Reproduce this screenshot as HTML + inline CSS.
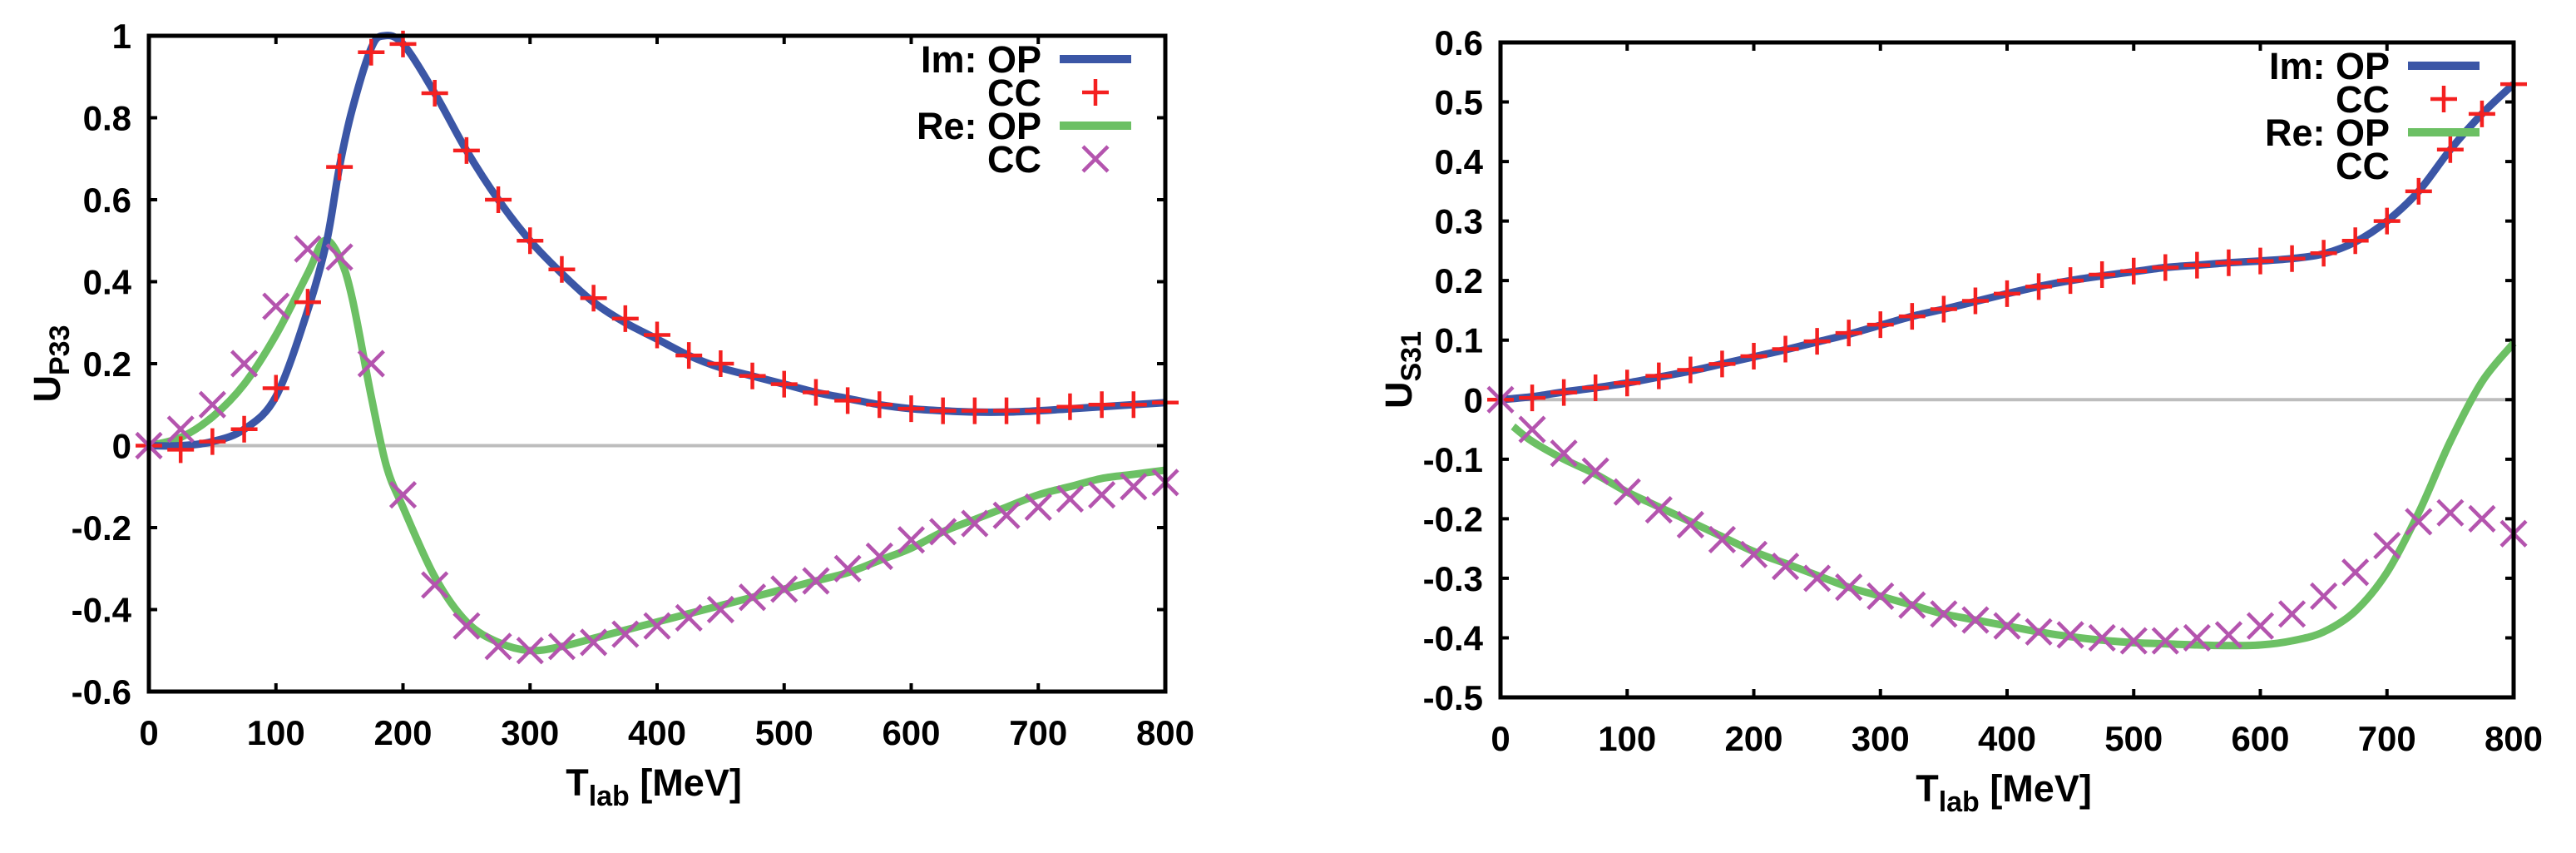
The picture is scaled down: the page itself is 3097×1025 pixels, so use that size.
<!DOCTYPE html>
<html><head><meta charset="utf-8"><style>
html,body{margin:0;padding:0;background:#fff;}
svg{display:block;}
text{font-family:"Liberation Sans",Arial,sans-serif;font-weight:bold;fill:#000;}
</style></head><body>
<svg id="fig" width="3097" height="1025" viewBox="0 0 3097 1025" xmlns="http://www.w3.org/2000/svg"></svg>
<script>
// ---------- Left panel data (U_P33) ----------
const xTicks = [0,100,200,300,400,500,600,700,800];
const p33YTicks = [-0.6,-0.4,-0.2,0,0.2,0.4,0.6,0.8,1];
const p33YLabels = ["-0.6","-0.4","-0.2","0","0.2","0.4","0.6","0.8","1"];
const p33ImOpX = [0,25,50,75,100,125,140,150,160,175,185,200,225,250,275,300,325,350,375,400,425,450,475,500,525,550,575,600,625,650,675,700,725,750,775,800];
const p33ImOpY = [0,0.0,0.01,0.04,0.12,0.33,0.5,0.68,0.82,0.97,1.0,0.98,0.86,0.72,0.6,0.5,0.42,0.35,0.3,0.26,0.22,0.19,0.17,0.15,0.13,0.115,0.1,0.09,0.085,0.082,0.082,0.085,0.09,0.095,0.1,0.105];
const p33CcX = [0,25,50,75,100,125,150,175,200,225,250,275,300,325,350,375,400,425,450,475,500,525,550,575,600,625,650,675,700,725,750,775,800];
const p33ImCcY = [0,-0.01,0.01,0.04,0.14,0.35,0.68,0.96,0.98,0.86,0.72,0.6,0.5,0.43,0.36,0.31,0.27,0.22,0.2,0.17,0.15,0.13,0.11,0.1,0.09,0.085,0.085,0.085,0.085,0.095,0.1,0.1,0.105];
const p33ReOpX = [0,25,50,75,100,125,138,150,160,175,187,200,225,250,275,300,325,350,375,400,425,450,475,500,525,550,575,600,625,650,675,700,725,750,775,800];
const p33ReOpY = [0,0.02,0.07,0.15,0.27,0.42,0.5,0.46,0.36,0.12,-0.05,-0.15,-0.32,-0.43,-0.48,-0.5,-0.49,-0.47,-0.45,-0.43,-0.41,-0.39,-0.37,-0.35,-0.33,-0.31,-0.28,-0.25,-0.21,-0.18,-0.15,-0.12,-0.1,-0.08,-0.07,-0.06];
const p33ReCcY = [0,0.04,0.1,0.2,0.34,0.48,0.46,0.2,-0.12,-0.34,-0.44,-0.49,-0.5,-0.49,-0.48,-0.46,-0.44,-0.42,-0.4,-0.37,-0.35,-0.33,-0.3,-0.27,-0.23,-0.21,-0.19,-0.17,-0.15,-0.13,-0.12,-0.1,-0.09];
// ---------- Right panel data (U_S31) ----------
const s31YTicks = [-0.5,-0.4,-0.3,-0.2,-0.1,0,0.1,0.2,0.3,0.4,0.5,0.6];
const s31YLabels = ["-0.5","-0.4","-0.3","-0.2","-0.1","0","0.1","0.2","0.3","0.4","0.5","0.6"];
const s31ImOpX = [0,25,50,75,100,125,150,175,200,225,250,275,300,325,350,375,400,425,450,475,500,525,550,575,600,625,650,675,700,725,750,775,800];
const s31ImOpY = [0,0.005,0.013,0.02,0.028,0.038,0.048,0.06,0.072,0.084,0.097,0.11,0.125,0.14,0.152,0.165,0.178,0.19,0.2,0.208,0.215,0.222,0.226,0.23,0.233,0.237,0.245,0.265,0.3,0.35,0.42,0.48,0.53];
const s31CcX = [0,25,50,75,100,125,150,175,200,225,250,275,300,325,350,375,400,425,450,475,500,525,550,575,600,625,650,675,700,725,750,775,800];
const s31ImCcY = [0,0.003,0.012,0.02,0.028,0.04,0.05,0.06,0.073,0.085,0.098,0.112,0.126,0.14,0.152,0.166,0.178,0.19,0.2,0.21,0.216,0.222,0.226,0.23,0.233,0.237,0.246,0.267,0.3,0.35,0.42,0.48,0.53];
const s31ReOpX = [10,25,50,75,100,125,150,175,200,225,250,275,300,325,350,375,400,425,450,475,500,525,550,575,600,625,650,675,700,725,750,775,800];
const s31ReOpY = [-0.045,-0.07,-0.1,-0.125,-0.155,-0.18,-0.205,-0.23,-0.255,-0.275,-0.295,-0.315,-0.33,-0.345,-0.36,-0.37,-0.38,-0.39,-0.398,-0.404,-0.408,-0.41,-0.412,-0.413,-0.412,-0.405,-0.39,-0.355,-0.29,-0.19,-0.07,0.03,0.095];
const s31ReCcY = [0,-0.05,-0.09,-0.12,-0.155,-0.185,-0.21,-0.235,-0.26,-0.28,-0.3,-0.315,-0.33,-0.345,-0.36,-0.37,-0.38,-0.39,-0.395,-0.4,-0.405,-0.405,-0.4,-0.395,-0.38,-0.36,-0.33,-0.29,-0.245,-0.205,-0.19,-0.2,-0.225];

const NS = "http://www.w3.org/2000/svg";
const svg = document.getElementById('fig');
const BLUE="#3b56a6", RED="#f42020", GREEN="#6cc064", MAG="#b454ae";
function mk(tag, attrs, parent){
  const e=document.createElementNS(NS,tag);
  for(const k in attrs) e.setAttribute(k,attrs[k]);
  (parent||svg).appendChild(e); return e;
}
function plusMark(g,x,y,c){
  const p=mk('path',{d:`M${x-16},${y}H${x+16}M${x},${y-16}V${y+16}`,stroke:c,'stroke-width':4.5,fill:'none'},g);
  
  
}
function xMark(g,x,y,c){
  const p=mk('path',{d:`M${x-15},${y-15}L${x+15},${y+15}M${x-15},${y+15}L${x+15},${y-15}`,stroke:c,'stroke-width':4.5,fill:'none'},g);
  
  
}
function smoothPath(pts){
  let d='M'+pts[0][0].toFixed(1)+','+pts[0][1].toFixed(1);
  for(let i=0;i<pts.length-1;i++){
    const p0=pts[Math.max(0,i-1)],p1=pts[i],p2=pts[i+1],p3=pts[Math.min(pts.length-1,i+2)];
    const c1x=p1[0]+(p2[0]-p0[0])/6,c1y=p1[1]+(p2[1]-p0[1])/6;
    const c2x=p2[0]-(p3[0]-p1[0])/6,c2y=p2[1]-(p3[1]-p1[1])/6;
    d+=`C${c1x.toFixed(1)},${c1y.toFixed(1)} ${c2x.toFixed(1)},${c2y.toFixed(1)} ${p2[0].toFixed(1)},${p2[1].toFixed(1)}`;
  }
  return d;
}
function panel(o){
  const g=mk('g',{});
  
  
  const sx=v=>o.L+(v-0)/800*(o.R-o.L);
  const sy=v=>o.B-(v-o.ymin)/(o.ymax-o.ymin)*(o.B-o.T);
  const z=mk('line',{x1:o.L,x2:o.R,y1:sy(0),y2:sy(0),stroke:'#bdbdbd','stroke-width':4},g);
  
  
  xTicks.forEach(t=>{
    const x=sx(t);
    mk('path',{d:`M${x},${o.B}v-10M${x},${o.T}v10`,stroke:'#000','stroke-width':4},g);
    const tx=mk('text',{x:x,y:o.B+64,'font-size':42,'text-anchor':'middle'},g);
    tx.textContent=String(t);
    
    
  });
  o.yTicks.forEach((t,i)=>{
    const y=sy(t);
    mk('path',{d:`M${o.L},${y}h10M${o.R},${y}h-10`,stroke:'#000','stroke-width':4},g);
    const tx=mk('text',{x:o.L-21,y:y+15,'font-size':42,'text-anchor':'end'},g);
    tx.textContent=o.yLabels[i];
    
    
  });
  const line=(xs,ys,c,nm)=>{
    const pts=xs.map((v,i)=>[sx(v),sy(ys[i])]);
    const p=mk('path',{d:smoothPath(pts),stroke:c,'stroke-width':9,fill:'none','stroke-linejoin':'round','stroke-linecap':'butt'},g);
    
    
  };
  line(o.reOpX,o.reOpY,GREEN,'re-op-curve');
  line(o.imOpX,o.imOpY,BLUE,'im-op-curve');
  o.ccX.forEach((v,i)=>plusMark(g,sx(v),sy(o.imCcY[i]),RED));
  o.ccX.forEach((v,i)=>xMark(g,sx(v),sy(o.reCcY[i]),MAG));
  const f=mk('rect',{x:o.L,y:o.T,width:o.R-o.L,height:o.B-o.T,fill:'none',stroke:'#000','stroke-width':5},g);
  
  
  const lg=mk('g',{},g);
  
  
  const tr=o.R-149, lx1=o.R-127, lx2=o.R-41, lc=o.R-84;
  const rows=[["Im: OP",'line',BLUE],["CC",'plus',RED],["Re: OP",'line',GREEN],["CC",'x',MAG]];
  rows.forEach((r,i)=>{
    const cy=o.T+28+i*40;
    const t=mk('text',{x:tr,y:cy+16,'font-size':45,'text-anchor':'end'},lg);
    t.textContent=r[0];
    
    
    if(r[1]==='line') mk('line',{x1:lx1,x2:lx2,y1:cy,y2:cy,stroke:r[2],'stroke-width':10},lg);
    else if(r[1]==='plus') plusMark(lg,lc,cy,r[2]);
    else if(o.showXLegend) xMark(lg,lc,cy,r[2]);
  });
  const xt=mk('text',{x:(o.L+o.R)/2-4,y:o.B+125,'font-size':45,'text-anchor':'middle'},g);
  
  
  xt.innerHTML='T<tspan font-size="34" dy="12">lab</tspan><tspan dy="-12"> [MeV]</tspan>';
  const yc=(o.T+o.B)/2, yx=o.L-107;
  const yt=mk('text',{x:0,y:0,'font-size':45,'text-anchor':'middle',transform:`translate(${yx},${yc}) rotate(-90)`},g);
  
  
  yt.innerHTML='U<tspan font-size="34" dy="11">'+o.sub+'</tspan>';
}
panel({name:'p33-panel',L:179,R:1401,T:43,B:831,ymin:-0.6,ymax:1,yTicks:p33YTicks,yLabels:p33YLabels,
  imOpX:p33ImOpX,imOpY:p33ImOpY,reOpX:p33ReOpX,reOpY:p33ReOpY,ccX:p33CcX,imCcY:p33ImCcY,reCcY:p33ReCcY,sub:'P33',showXLegend:true});
panel({name:'s31-panel',L:1804,R:3022,T:51,B:838,ymin:-0.5,ymax:0.6,yTicks:s31YTicks,yLabels:s31YLabels,
  imOpX:s31ImOpX,imOpY:s31ImOpY,reOpX:s31ReOpX,reOpY:s31ReOpY,ccX:s31CcX,imCcY:s31ImCcY,reCcY:s31ReCcY,sub:'S31',showXLegend:false});
</script>
</body></html>
